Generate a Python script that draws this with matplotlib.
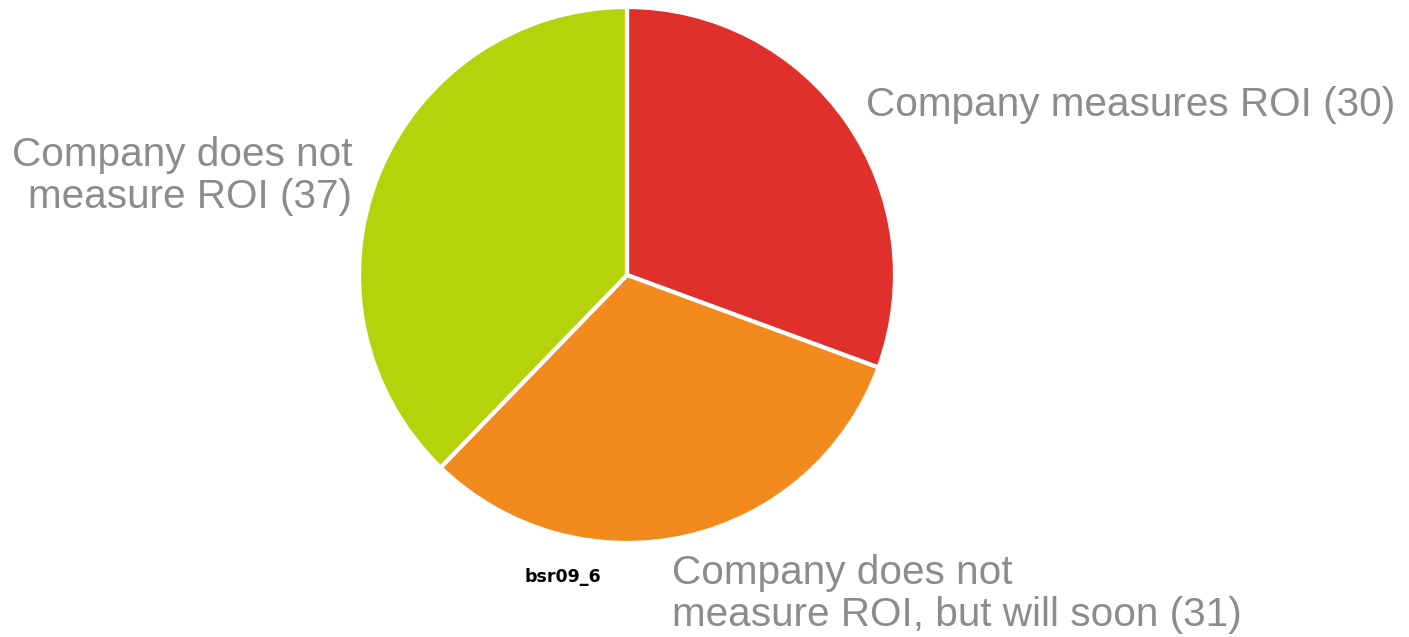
import matplotlib.pyplot as plt

# data
labels = ["Company measures ROI (30)",
          "Company does not\nmeasure ROI, but will soon (31)",
          "Company does not\nmeasure ROI (37)"]
values = [30, 31, 37]
colors = ["#e0302b", "#f28a1e", "#b4d30a"]

fig = plt.figure(figsize=(14.09, 6.37), dpi=100)
ax = fig.add_axes([0, 0, 1, 1])

ax.pie(values, colors=colors, startangle=90, counterclock=False,
       center=(627, 362), radius=268,
       wedgeprops=dict(edgecolor="white", linewidth=3))

# pie() resets the limits, so set them afterwards
ax.set_xlim(0, 1409)
ax.set_ylim(0, 637)
ax.set_aspect("equal")
ax.axis("off")

grey = "#8c8c8c"
fs = 29.2
ax.text(866, 532, labels[0], fontsize=fs, color=grey, family="Liberation Sans",
        ha="left", va="center")
ax.text(672, 43, labels[1], fontsize=fs, color=grey, family="Liberation Sans",
        ha="left", va="center", multialignment="left", linespacing=1.12)
ax.text(352, 461, labels[2], fontsize=fs, color=grey, family="Liberation Sans",
        ha="right", va="center", multialignment="right", linespacing=1.12)

ax.text(563, 60, "bsr09_6", fontsize=12.5, fontweight="bold", color="black",
        family="DejaVu Sans", ha="center", va="center")

fig.savefig("out.png", dpi=100, facecolor="white")
